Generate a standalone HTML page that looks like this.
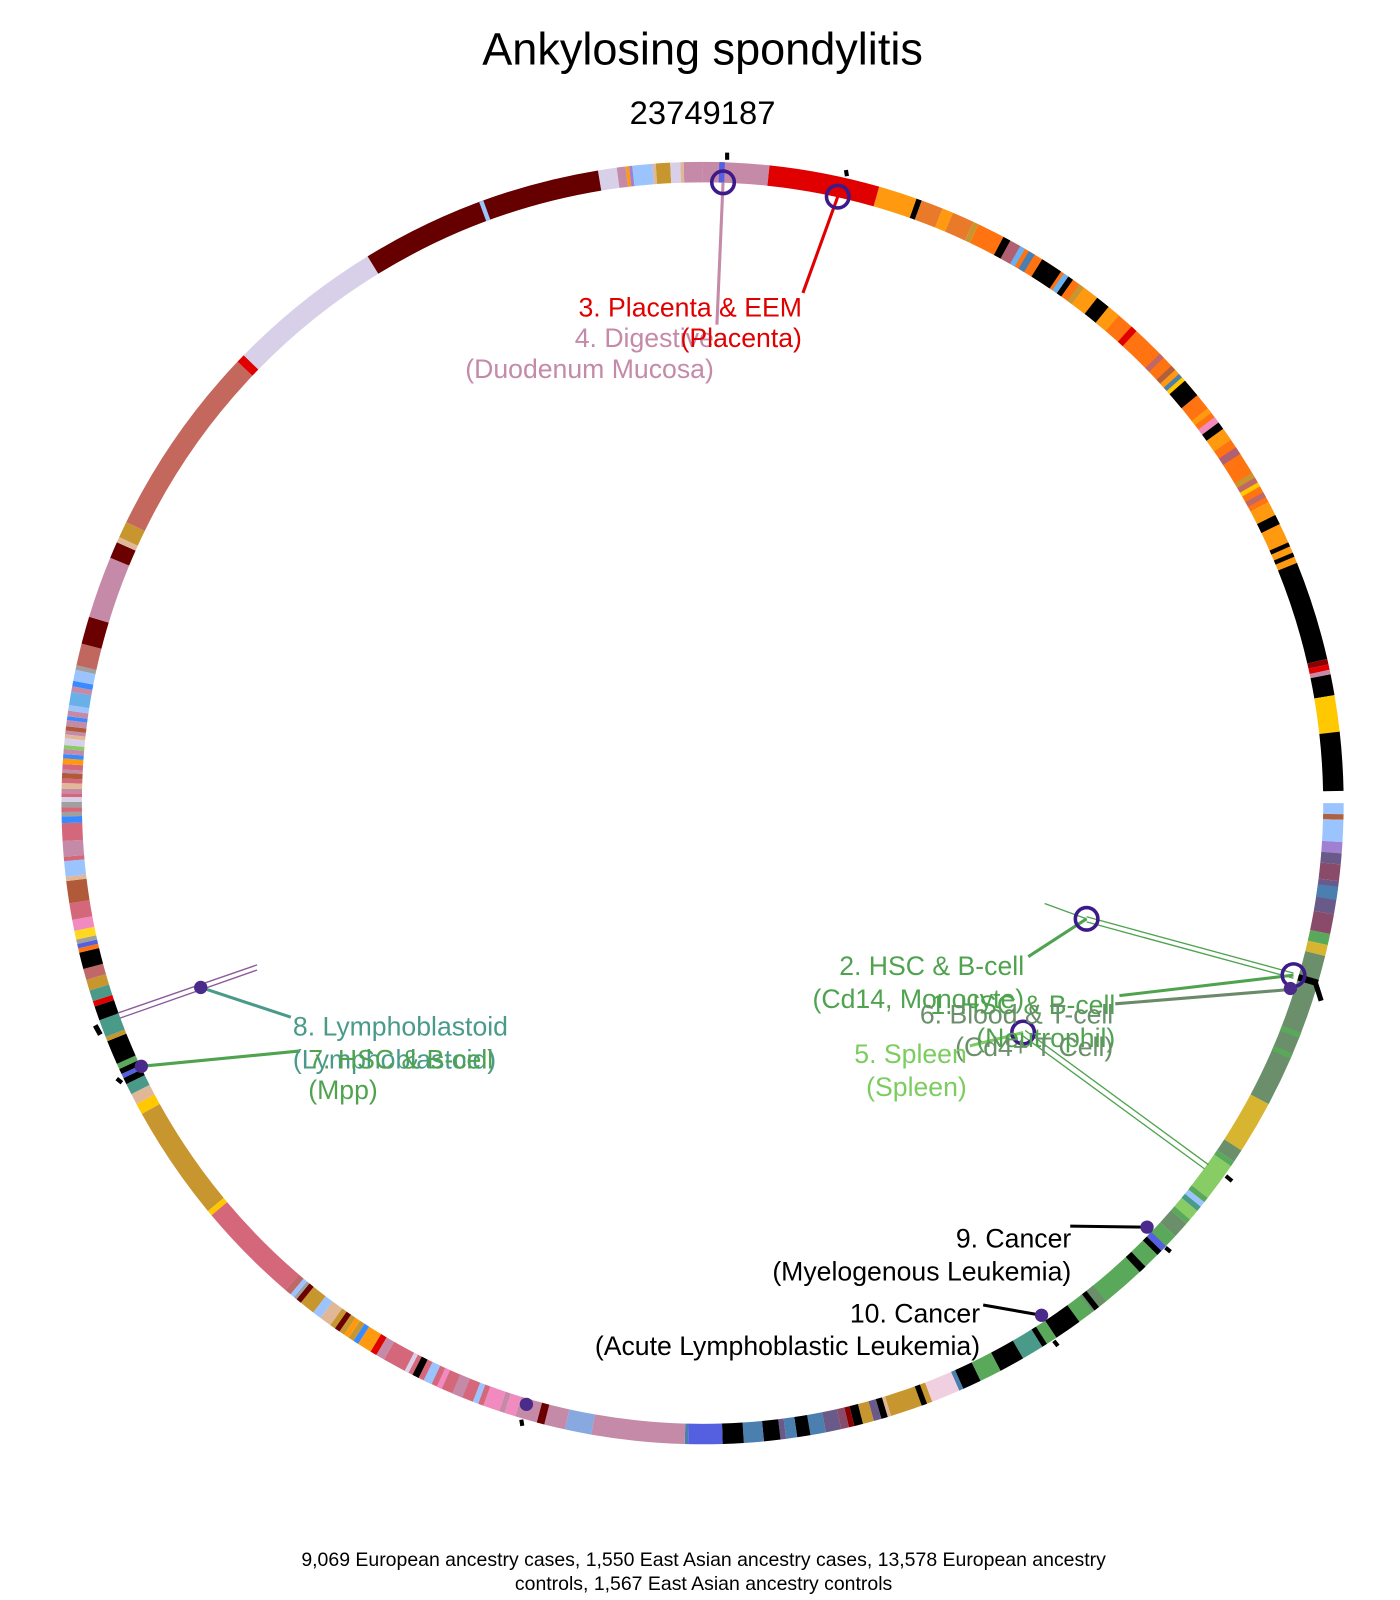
<!DOCTYPE html>
<html><head><meta charset="utf-8"><style>
html,body{margin:0;padding:0;background:#fff;}
svg{display:block;}
text{font-family:"Liberation Sans",Arial,sans-serif;}
</style></head><body>
<svg width="1400" height="1600" viewBox="0 0 1367 1562" preserveAspectRatio="none" xmlns="http://www.w3.org/2000/svg">
<rect width="1367" height="1562" fill="#fff"/>
<text x="686" y="63" font-size="44" text-anchor="middle" fill="#000">Ankylosing spondylitis</text>
<text x="686" y="121" font-size="32" text-anchor="middle" fill="#000">23749187</text>
<g transform="translate(686 784) rotate(-90)" fill="none" stroke-width="20">
<g id="ring">
<circle r="616" pathLength="360" stroke="#d8d0e8" stroke-dasharray="1.7 400" stroke-dashoffset="-350.6"/>
<circle r="616" pathLength="360" stroke="#c58aa8" stroke-dasharray="0.8 400" stroke-dashoffset="-352.3"/>
<circle r="616" pathLength="360" stroke="#ff9a10" stroke-dasharray="0.3 400" stroke-dashoffset="-353.1"/>
<circle r="616" pathLength="360" stroke="#a080d0" stroke-dasharray="0.3 400" stroke-dashoffset="-353.4"/>
<circle r="616" pathLength="360" stroke="#9bc4ff" stroke-dasharray="1.8 400" stroke-dashoffset="-353.7"/>
<circle r="616" pathLength="360" stroke="#e0b898" stroke-dasharray="0.3 400" stroke-dashoffset="-355.5"/>
<circle r="616" pathLength="360" stroke="#c8962f" stroke-dasharray="1.3 400" stroke-dashoffset="-355.8"/>
<circle r="616" pathLength="360" stroke="#d8d0e8" stroke-dasharray="0.9 400" stroke-dashoffset="-357.1"/>
<circle r="616" pathLength="360" stroke="#e0b898" stroke-dasharray="0.3 400" stroke-dashoffset="-358"/>
<circle r="616" pathLength="360" stroke="#c58aa8" stroke-dasharray="1.7 400" stroke-dashoffset="-358.3"/>
<circle r="616" pathLength="360" stroke="#c58aa8" stroke-dasharray="6 400" stroke-dashoffset="0"/>
<circle r="616" pathLength="360" stroke="#5560e0" stroke-dasharray="0.5 400" stroke-dashoffset="-1.5"/>
<circle r="616" pathLength="360" stroke="#e00000" stroke-dasharray="10 400" stroke-dashoffset="-6"/>
<circle r="616" pathLength="360" stroke="#ff9a10" stroke-dasharray="3.5 400" stroke-dashoffset="-16"/>
<circle r="616" pathLength="360" stroke="#000" stroke-dasharray="0.5 400" stroke-dashoffset="-19.5"/>
<circle r="616" pathLength="360" stroke="#e87a2a" stroke-dasharray="2 400" stroke-dashoffset="-20"/>
<circle r="616" pathLength="360" stroke="#ff9a10" stroke-dasharray="1 400" stroke-dashoffset="-22"/>
<circle r="616" pathLength="360" stroke="#e87a2a" stroke-dasharray="2 400" stroke-dashoffset="-23"/>
<circle r="616" pathLength="360" stroke="#c8962f" stroke-dasharray="0.5 400" stroke-dashoffset="-25"/>
<circle r="616" pathLength="360" stroke="#ff7310" stroke-dasharray="36.5 400" stroke-dashoffset="-25.5"/>
<circle r="616" pathLength="360" stroke="#000" stroke-dasharray="0.7 400" stroke-dashoffset="-28"/>
<circle r="616" pathLength="360" stroke="#b06070" stroke-dasharray="1 400" stroke-dashoffset="-28.7"/>
<circle r="616" pathLength="360" stroke="#6ab0f0" stroke-dasharray="0.5 400" stroke-dashoffset="-29.7"/>
<circle r="616" pathLength="360" stroke="#4a7fb0" stroke-dasharray="0.6 400" stroke-dashoffset="-30.6"/>
<circle r="616" pathLength="360" stroke="#000" stroke-dasharray="2 400" stroke-dashoffset="-32"/>
<circle r="616" pathLength="360" stroke="#6ab0f0" stroke-dasharray="0.5 400" stroke-dashoffset="-34.3"/>
<circle r="616" pathLength="360" stroke="#000" stroke-dasharray="0.5 400" stroke-dashoffset="-34.8"/>
<circle r="616" pathLength="360" stroke="#c8962f" stroke-dasharray="0.5 400" stroke-dashoffset="-36"/>
<circle r="616" pathLength="360" stroke="#ff9a10" stroke-dasharray="1.5 400" stroke-dashoffset="-36.5"/>
<circle r="616" pathLength="360" stroke="#000" stroke-dasharray="1.3 400" stroke-dashoffset="-38"/>
<circle r="616" pathLength="360" stroke="#ff9a10" stroke-dasharray="1.2 400" stroke-dashoffset="-39.3"/>
<circle r="616" pathLength="360" stroke="#e00000" stroke-dasharray="0.6 400" stroke-dashoffset="-42"/>
<circle r="616" pathLength="360" stroke="#c06868" stroke-dasharray="0.5 400" stroke-dashoffset="-45.5"/>
<circle r="616" pathLength="360" stroke="#b06040" stroke-dasharray="0.5 400" stroke-dashoffset="-47"/>
<circle r="616" pathLength="360" stroke="#ff9a10" stroke-dasharray="0.5 400" stroke-dashoffset="-47.5"/>
<circle r="616" pathLength="360" stroke="#4a7fb0" stroke-dasharray="0.4 400" stroke-dashoffset="-48"/>
<circle r="616" pathLength="360" stroke="#ffc800" stroke-dasharray="0.4 400" stroke-dashoffset="-48.4"/>
<circle r="616" pathLength="360" stroke="#000" stroke-dasharray="1.7 400" stroke-dashoffset="-48.8"/>
<circle r="616" pathLength="360" stroke="#ff9a10" stroke-dasharray="0.5 400" stroke-dashoffset="-52"/>
<circle r="616" pathLength="360" stroke="#f08abf" stroke-dasharray="0.6 400" stroke-dashoffset="-53"/>
<circle r="616" pathLength="360" stroke="#000" stroke-dasharray="0.7 400" stroke-dashoffset="-53.6"/>
<circle r="616" pathLength="360" stroke="#ff9a10" stroke-dasharray="1.2 400" stroke-dashoffset="-54.3"/>
<circle r="616" pathLength="360" stroke="#b06070" stroke-dasharray="0.7 400" stroke-dashoffset="-56.3"/>
<circle r="616" pathLength="360" stroke="#c8962f" stroke-dasharray="0.5 400" stroke-dashoffset="-59"/>
<circle r="616" pathLength="360" stroke="#c06868" stroke-dasharray="0.5 400" stroke-dashoffset="-59.5"/>
<circle r="616" pathLength="360" stroke="#ffc800" stroke-dasharray="0.4 400" stroke-dashoffset="-60"/>
<circle r="616" pathLength="360" stroke="#c06868" stroke-dasharray="0.5 400" stroke-dashoffset="-61"/>
<circle r="616" pathLength="360" stroke="#ff9a10" stroke-dasharray="6 400" stroke-dashoffset="-62"/>
<circle r="616" pathLength="360" stroke="#000" stroke-dasharray="0.9 400" stroke-dashoffset="-63.3"/>
<circle r="616" pathLength="360" stroke="#000" stroke-dasharray="0.4 400" stroke-dashoffset="-66"/>
<circle r="616" pathLength="360" stroke="#000" stroke-dasharray="0.4 400" stroke-dashoffset="-67"/>
<circle r="616" pathLength="360" stroke="#000" stroke-dasharray="9 400" stroke-dashoffset="-68"/>
<circle r="616" pathLength="360" stroke="#8b0000" stroke-dasharray="0.5 400" stroke-dashoffset="-77"/>
<circle r="616" pathLength="360" stroke="#e00000" stroke-dasharray="0.5 400" stroke-dashoffset="-77.5"/>
<circle r="616" pathLength="360" stroke="#c58aa8" stroke-dasharray="0.4 400" stroke-dashoffset="-78"/>
<circle r="616" pathLength="360" stroke="#000" stroke-dasharray="1.9 400" stroke-dashoffset="-78.4"/>
<circle r="616" pathLength="360" stroke="#ffc800" stroke-dasharray="3.3 400" stroke-dashoffset="-80.3"/>
<circle r="616" pathLength="360" stroke="#000" stroke-dasharray="5.3 400" stroke-dashoffset="-83.6"/>
<circle r="616" pathLength="360" stroke="#9bc4ff" stroke-dasharray="1 400" stroke-dashoffset="-90"/>
<circle r="616" pathLength="360" stroke="#b06040" stroke-dasharray="0.5 400" stroke-dashoffset="-91"/>
<circle r="616" pathLength="360" stroke="#9bc4ff" stroke-dasharray="2 400" stroke-dashoffset="-91.5"/>
<circle r="616" pathLength="360" stroke="#a080d0" stroke-dasharray="1 400" stroke-dashoffset="-93.5"/>
<circle r="616" pathLength="360" stroke="#6a5a8a" stroke-dasharray="1 400" stroke-dashoffset="-94.5"/>
<circle r="616" pathLength="360" stroke="#8a4a6a" stroke-dasharray="1.5 400" stroke-dashoffset="-95.5"/>
<circle r="616" pathLength="360" stroke="#6a5a8a" stroke-dasharray="3 400" stroke-dashoffset="-97"/>
<circle r="616" pathLength="360" stroke="#4a7fb0" stroke-dasharray="1.2 400" stroke-dashoffset="-97.5"/>
<circle r="616" pathLength="360" stroke="#8a4a6a" stroke-dasharray="1.8 400" stroke-dashoffset="-100"/>
<circle r="616" pathLength="360" stroke="#5aa85a" stroke-dasharray="1 400" stroke-dashoffset="-101.8"/>
<circle r="616" pathLength="360" stroke="#d8b530" stroke-dasharray="1 400" stroke-dashoffset="-102.8"/>
<circle r="616" pathLength="360" stroke="#6a8f6a" stroke-dasharray="14.2 400" stroke-dashoffset="-103.8"/>
<circle r="616" pathLength="360" stroke="#000" stroke-dasharray="0.6 400" stroke-dashoffset="-106"/>
<circle r="616" pathLength="360" stroke="#5aa85a" stroke-dasharray="0.5 400" stroke-dashoffset="-111"/>
<circle r="616" pathLength="360" stroke="#5aa85a" stroke-dasharray="0.5 400" stroke-dashoffset="-113"/>
<circle r="616" pathLength="360" stroke="#d8b530" stroke-dasharray="4.8 400" stroke-dashoffset="-118"/>
<circle r="616" pathLength="360" stroke="#6a8f6a" stroke-dasharray="1.2 400" stroke-dashoffset="-122.8"/>
<circle r="616" pathLength="360" stroke="#5aa85a" stroke-dasharray="0.5 400" stroke-dashoffset="-124"/>
<circle r="616" pathLength="360" stroke="#88cc66" stroke-dasharray="3.5 400" stroke-dashoffset="-124.5"/>
<circle r="616" pathLength="360" stroke="#5aa85a" stroke-dasharray="0.5 400" stroke-dashoffset="-128"/>
<circle r="616" pathLength="360" stroke="#9bc4ff" stroke-dasharray="0.5 400" stroke-dashoffset="-128.5"/>
<circle r="616" pathLength="360" stroke="#4a9a8a" stroke-dasharray="0.5 400" stroke-dashoffset="-129"/>
<circle r="616" pathLength="360" stroke="#88cc66" stroke-dasharray="1 400" stroke-dashoffset="-129.5"/>
<circle r="616" pathLength="360" stroke="#5aa85a" stroke-dasharray="0.5 400" stroke-dashoffset="-130.5"/>
<circle r="616" pathLength="360" stroke="#6a8f6a" stroke-dasharray="1.5 400" stroke-dashoffset="-131"/>
<circle r="616" pathLength="360" stroke="#5aa85a" stroke-dasharray="12.5 400" stroke-dashoffset="-132.5"/>
<circle r="616" pathLength="360" stroke="#5560e0" stroke-dasharray="0.6 400" stroke-dashoffset="-133.7"/>
<circle r="616" pathLength="360" stroke="#000" stroke-dasharray="0.5 400" stroke-dashoffset="-134.3"/>
<circle r="616" pathLength="360" stroke="#000" stroke-dasharray="0.7 400" stroke-dashoffset="-136.3"/>
<circle r="616" pathLength="360" stroke="#6a8f6a" stroke-dasharray="1.5 400" stroke-dashoffset="-141"/>
<circle r="616" pathLength="360" stroke="#000" stroke-dasharray="0.5 400" stroke-dashoffset="-141.8"/>
<circle r="616" pathLength="360" stroke="#000" stroke-dasharray="2.5 400" stroke-dashoffset="-144"/>
<circle r="616" pathLength="360" stroke="#5aa85a" stroke-dasharray="1 400" stroke-dashoffset="-146.5"/>
<circle r="616" pathLength="360" stroke="#000" stroke-dasharray="0.5 400" stroke-dashoffset="-147.5"/>
<circle r="616" pathLength="360" stroke="#4a9a8a" stroke-dasharray="2 400" stroke-dashoffset="-148"/>
<circle r="616" pathLength="360" stroke="#000" stroke-dasharray="2.3 400" stroke-dashoffset="-150"/>
<circle r="616" pathLength="360" stroke="#5aa85a" stroke-dasharray="2 400" stroke-dashoffset="-152.3"/>
<circle r="616" pathLength="360" stroke="#000" stroke-dasharray="1.7 400" stroke-dashoffset="-154.3"/>
<circle r="616" pathLength="360" stroke="#4a7fb0" stroke-dasharray="0.4 400" stroke-dashoffset="-156"/>
<circle r="616" pathLength="360" stroke="#f0d0e0" stroke-dasharray="2.6 400" stroke-dashoffset="-156.4"/>
<circle r="616" pathLength="360" stroke="#c8962f" stroke-dasharray="3.9 400" stroke-dashoffset="-159"/>
<circle r="616" pathLength="360" stroke="#000" stroke-dasharray="0.5 400" stroke-dashoffset="-159.5"/>
<circle r="616" pathLength="360" stroke="#e0b898" stroke-dasharray="0.3 400" stroke-dashoffset="-162.9"/>
<circle r="616" pathLength="360" stroke="#000" stroke-dasharray="0.6 400" stroke-dashoffset="-163.2"/>
<circle r="616" pathLength="360" stroke="#6a5a8a" stroke-dasharray="0.7 400" stroke-dashoffset="-163.8"/>
<circle r="616" pathLength="360" stroke="#c8962f" stroke-dasharray="1 400" stroke-dashoffset="-164.5"/>
<circle r="616" pathLength="360" stroke="#000" stroke-dasharray="0.8 400" stroke-dashoffset="-165.5"/>
<circle r="616" pathLength="360" stroke="#8b0000" stroke-dasharray="0.5 400" stroke-dashoffset="-166.3"/>
<circle r="616" pathLength="360" stroke="#8a4a6a" stroke-dasharray="0.7 400" stroke-dashoffset="-166.8"/>
<circle r="616" pathLength="360" stroke="#6a5a8a" stroke-dasharray="1.4 400" stroke-dashoffset="-167.5"/>
<circle r="616" pathLength="360" stroke="#4a7fb0" stroke-dasharray="1.4 400" stroke-dashoffset="-168.9"/>
<circle r="616" pathLength="360" stroke="#000" stroke-dasharray="1.2 400" stroke-dashoffset="-170.3"/>
<circle r="616" pathLength="360" stroke="#4a7fb0" stroke-dasharray="1 400" stroke-dashoffset="-171.5"/>
<circle r="616" pathLength="360" stroke="#6a5a8a" stroke-dasharray="0.5 400" stroke-dashoffset="-172.5"/>
<circle r="616" pathLength="360" stroke="#000" stroke-dasharray="1.5 400" stroke-dashoffset="-173"/>
<circle r="616" pathLength="360" stroke="#4a7fb0" stroke-dasharray="1.8 400" stroke-dashoffset="-174.5"/>
<circle r="616" pathLength="360" stroke="#000" stroke-dasharray="1.9 400" stroke-dashoffset="-176.3"/>
<circle r="616" pathLength="360" stroke="#5560e0" stroke-dasharray="3.1 400" stroke-dashoffset="-178.2"/>
<circle r="616" pathLength="360" stroke="#4a7fb0" stroke-dasharray="0.3 400" stroke-dashoffset="-181.3"/>
<circle r="616" pathLength="360" stroke="#c58aa8" stroke-dasharray="8.4 400" stroke-dashoffset="-181.6"/>
<circle r="616" pathLength="360" stroke="#88a8e0" stroke-dasharray="2.4 400" stroke-dashoffset="-190"/>
<circle r="616" pathLength="360" stroke="#c58aa8" stroke-dasharray="1.9 400" stroke-dashoffset="-192.4"/>
<circle r="616" pathLength="360" stroke="#6b0000" stroke-dasharray="0.7 400" stroke-dashoffset="-194.3"/>
<circle r="616" pathLength="360" stroke="#c58aa8" stroke-dasharray="2 400" stroke-dashoffset="-195"/>
<circle r="616" pathLength="360" stroke="#f08abf" stroke-dasharray="1 400" stroke-dashoffset="-197"/>
<circle r="616" pathLength="360" stroke="#c58aa8" stroke-dasharray="0.5 400" stroke-dashoffset="-198"/>
<circle r="616" pathLength="360" stroke="#f08abf" stroke-dasharray="1.5 400" stroke-dashoffset="-198.5"/>
<circle r="616" pathLength="360" stroke="#d4687a" stroke-dasharray="0.5 400" stroke-dashoffset="-200"/>
<circle r="616" pathLength="360" stroke="#9bc4ff" stroke-dasharray="0.5 400" stroke-dashoffset="-200.5"/>
<circle r="616" pathLength="360" stroke="#d4687a" stroke-dasharray="8.8 400" stroke-dashoffset="-201"/>
<circle r="616" pathLength="360" stroke="#c58aa8" stroke-dasharray="1 400" stroke-dashoffset="-202"/>
<circle r="616" pathLength="360" stroke="#f08abf" stroke-dasharray="0.5 400" stroke-dashoffset="-204"/>
<circle r="616" pathLength="360" stroke="#9bc4ff" stroke-dasharray="0.8 400" stroke-dashoffset="-205"/>
<circle r="616" pathLength="360" stroke="#000" stroke-dasharray="0.6 400" stroke-dashoffset="-206.3"/>
<circle r="616" pathLength="360" stroke="#d8d0e8" stroke-dasharray="0.4 400" stroke-dashoffset="-207.3"/>
<circle r="616" pathLength="360" stroke="#c58aa8" stroke-dasharray="0.8 400" stroke-dashoffset="-209.8"/>
<circle r="616" pathLength="360" stroke="#e00000" stroke-dasharray="0.6 400" stroke-dashoffset="-210.6"/>
<circle r="616" pathLength="360" stroke="#ff9a10" stroke-dasharray="1.3 400" stroke-dashoffset="-211.2"/>
<circle r="616" pathLength="360" stroke="#3a8aff" stroke-dasharray="0.5 400" stroke-dashoffset="-212.5"/>
<circle r="616" pathLength="360" stroke="#c8962f" stroke-dasharray="0.5 400" stroke-dashoffset="-213"/>
<circle r="616" pathLength="360" stroke="#ff9a10" stroke-dasharray="0.5 400" stroke-dashoffset="-213.5"/>
<circle r="616" pathLength="360" stroke="#c8962f" stroke-dasharray="0.5 400" stroke-dashoffset="-214"/>
<circle r="616" pathLength="360" stroke="#6b0000" stroke-dasharray="0.5 400" stroke-dashoffset="-214.5"/>
<circle r="616" pathLength="360" stroke="#c8962f" stroke-dasharray="0.5 400" stroke-dashoffset="-215"/>
<circle r="616" pathLength="360" stroke="#e0b898" stroke-dasharray="1.1 400" stroke-dashoffset="-215.5"/>
<circle r="616" pathLength="360" stroke="#9bc4ff" stroke-dasharray="0.8 400" stroke-dashoffset="-216.6"/>
<circle r="616" pathLength="360" stroke="#c8962f" stroke-dasharray="1.4 400" stroke-dashoffset="-217.4"/>
<circle r="616" pathLength="360" stroke="#6b0000" stroke-dasharray="0.5 400" stroke-dashoffset="-218.8"/>
<circle r="616" pathLength="360" stroke="#a0a0a0" stroke-dasharray="0.3 400" stroke-dashoffset="-219.3"/>
<circle r="616" pathLength="360" stroke="#9bc4ff" stroke-dasharray="0.4 400" stroke-dashoffset="-219.6"/>
<circle r="616" pathLength="360" stroke="#c06868" stroke-dasharray="0.6 400" stroke-dashoffset="-220"/>
<circle r="616" pathLength="360" stroke="#d4687a" stroke-dasharray="9.4 400" stroke-dashoffset="-220.6"/>
<circle r="616" pathLength="360" stroke="#ffc800" stroke-dasharray="0.5 400" stroke-dashoffset="-230"/>
<circle r="616" pathLength="360" stroke="#c8962f" stroke-dasharray="10.5 400" stroke-dashoffset="-230.5"/>
<circle r="616" pathLength="360" stroke="#ffc800" stroke-dasharray="1 400" stroke-dashoffset="-241"/>
<circle r="616" pathLength="360" stroke="#e0b898" stroke-dasharray="1 400" stroke-dashoffset="-242"/>
<circle r="616" pathLength="360" stroke="#4a9a8a" stroke-dasharray="1 400" stroke-dashoffset="-243"/>
<circle r="616" pathLength="360" stroke="#000" stroke-dasharray="0.6 400" stroke-dashoffset="-244"/>
<circle r="616" pathLength="360" stroke="#5560e0" stroke-dasharray="0.4 400" stroke-dashoffset="-244.6"/>
<circle r="616" pathLength="360" stroke="#000" stroke-dasharray="0.5 400" stroke-dashoffset="-245"/>
<circle r="616" pathLength="360" stroke="#5aa85a" stroke-dasharray="0.5 400" stroke-dashoffset="-245.5"/>
<circle r="616" pathLength="360" stroke="#000" stroke-dasharray="2.2 400" stroke-dashoffset="-246"/>
<circle r="616" pathLength="360" stroke="#c8962f" stroke-dasharray="0.4 400" stroke-dashoffset="-248.2"/>
<circle r="616" pathLength="360" stroke="#4a9a8a" stroke-dasharray="1.6 400" stroke-dashoffset="-248.6"/>
<circle r="616" pathLength="360" stroke="#000" stroke-dasharray="1.3 400" stroke-dashoffset="-250.2"/>
<circle r="616" pathLength="360" stroke="#e00000" stroke-dasharray="0.5 400" stroke-dashoffset="-251.5"/>
<circle r="616" pathLength="360" stroke="#4a9a8a" stroke-dasharray="1 400" stroke-dashoffset="-252"/>
<circle r="616" pathLength="360" stroke="#c8962f" stroke-dasharray="1 400" stroke-dashoffset="-253"/>
<circle r="616" pathLength="360" stroke="#c06868" stroke-dasharray="1 400" stroke-dashoffset="-254"/>
<circle r="616" pathLength="360" stroke="#000" stroke-dasharray="1.5 400" stroke-dashoffset="-255"/>
<circle r="616" pathLength="360" stroke="#ff7310" stroke-dasharray="0.4 400" stroke-dashoffset="-256.5"/>
<circle r="616" pathLength="360" stroke="#5560e0" stroke-dasharray="0.4 400" stroke-dashoffset="-256.9"/>
<circle r="616" pathLength="360" stroke="#a0a0a0" stroke-dasharray="0.4 400" stroke-dashoffset="-257.3"/>
<circle r="616" pathLength="360" stroke="#ffd820" stroke-dasharray="0.8 400" stroke-dashoffset="-257.7"/>
<circle r="616" pathLength="360" stroke="#f08abf" stroke-dasharray="1 400" stroke-dashoffset="-258.5"/>
<circle r="616" pathLength="360" stroke="#d4687a" stroke-dasharray="1.5 400" stroke-dashoffset="-259.5"/>
<circle r="616" pathLength="360" stroke="#b05a3a" stroke-dasharray="2 400" stroke-dashoffset="-261"/>
<circle r="616" pathLength="360" stroke="#e0b898" stroke-dasharray="0.4 400" stroke-dashoffset="-263"/>
<circle r="616" pathLength="360" stroke="#9bc4ff" stroke-dasharray="1.4 400" stroke-dashoffset="-263.4"/>
<circle r="616" pathLength="360" stroke="#d4687a" stroke-dasharray="0.4 400" stroke-dashoffset="-264.8"/>
<circle r="616" pathLength="360" stroke="#c58aa8" stroke-dasharray="1.4 400" stroke-dashoffset="-265.2"/>
<circle r="616" pathLength="360" stroke="#d4687a" stroke-dasharray="1.6 400" stroke-dashoffset="-266.6"/>
<circle r="616" pathLength="360" stroke="#3a8aff" stroke-dasharray="0.6 400" stroke-dashoffset="-268.2"/>
<circle r="616" pathLength="360" stroke="#a0a0a0" stroke-dasharray="0.4 400" stroke-dashoffset="-268.8"/>
<circle r="616" pathLength="360" stroke="#d4687a" stroke-dasharray="0.4 400" stroke-dashoffset="-269.2"/>
<circle r="616" pathLength="360" stroke="#a0a0a0" stroke-dasharray="0.5 400" stroke-dashoffset="-269.6"/>
<circle r="616" pathLength="360" stroke="#d8d0e8" stroke-dasharray="0.45 400" stroke-dashoffset="-270.1"/>
<circle r="616" pathLength="360" stroke="#d4687a" stroke-dasharray="0.35 400" stroke-dashoffset="-270.55"/>
<circle r="616" pathLength="360" stroke="#c58aa8" stroke-dasharray="0.4 400" stroke-dashoffset="-270.9"/>
<circle r="616" pathLength="360" stroke="#e0b898" stroke-dasharray="0.5 400" stroke-dashoffset="-271.3"/>
<circle r="616" pathLength="360" stroke="#d4687a" stroke-dasharray="0.4 400" stroke-dashoffset="-271.8"/>
<circle r="616" pathLength="360" stroke="#b05a3a" stroke-dasharray="0.5 400" stroke-dashoffset="-272.2"/>
<circle r="616" pathLength="360" stroke="#c58aa8" stroke-dasharray="0.3 400" stroke-dashoffset="-272.7"/>
<circle r="616" pathLength="360" stroke="#d4687a" stroke-dasharray="0.5 400" stroke-dashoffset="-273"/>
<circle r="616" pathLength="360" stroke="#ff9a10" stroke-dasharray="0.5 400" stroke-dashoffset="-273.5"/>
<circle r="616" pathLength="360" stroke="#3a8aff" stroke-dasharray="0.4 400" stroke-dashoffset="-274"/>
<circle r="616" pathLength="360" stroke="#c58aa8" stroke-dasharray="0.45 400" stroke-dashoffset="-274.4"/>
<circle r="616" pathLength="360" stroke="#88cc66" stroke-dasharray="0.35 400" stroke-dashoffset="-274.85"/>
<circle r="616" pathLength="360" stroke="#d8d0e8" stroke-dasharray="0.6 400" stroke-dashoffset="-275.2"/>
<circle r="616" pathLength="360" stroke="#e0b898" stroke-dasharray="0.35 400" stroke-dashoffset="-275.8"/>
<circle r="616" pathLength="360" stroke="#c58aa8" stroke-dasharray="0.35 400" stroke-dashoffset="-276.15"/>
<circle r="616" pathLength="360" stroke="#b05a3a" stroke-dasharray="0.4 400" stroke-dashoffset="-276.5"/>
<circle r="616" pathLength="360" stroke="#c58aa8" stroke-dasharray="0.55 400" stroke-dashoffset="-276.9"/>
<circle r="616" pathLength="360" stroke="#3a8aff" stroke-dasharray="0.35 400" stroke-dashoffset="-277.45"/>
<circle r="616" pathLength="360" stroke="#c58aa8" stroke-dasharray="0.5 400" stroke-dashoffset="-277.8"/>
<circle r="616" pathLength="360" stroke="#9bc4ff" stroke-dasharray="0.5 400" stroke-dashoffset="-278.3"/>
<circle r="616" pathLength="360" stroke="#6ab0e8" stroke-dasharray="1.2 400" stroke-dashoffset="-278.8"/>
<circle r="616" pathLength="360" stroke="#c58aa8" stroke-dasharray="0.5 400" stroke-dashoffset="-280"/>
<circle r="616" pathLength="360" stroke="#3a8aff" stroke-dasharray="0.5 400" stroke-dashoffset="-280.5"/>
<circle r="616" pathLength="360" stroke="#9bc4ff" stroke-dasharray="1 400" stroke-dashoffset="-281"/>
<circle r="616" pathLength="360" stroke="#a0a0a0" stroke-dasharray="0.4 400" stroke-dashoffset="-282"/>
<circle r="616" pathLength="360" stroke="#c06860" stroke-dasharray="2 400" stroke-dashoffset="-282.4"/>
<circle r="616" pathLength="360" stroke="#6b0000" stroke-dasharray="2.5 400" stroke-dashoffset="-284.4"/>
<circle r="616" pathLength="360" stroke="#c58aa8" stroke-dasharray="5.6 400" stroke-dashoffset="-286.9"/>
<circle r="616" pathLength="360" stroke="#6b0000" stroke-dasharray="1.5 400" stroke-dashoffset="-292.5"/>
<circle r="616" pathLength="360" stroke="#e0b898" stroke-dasharray="0.5 400" stroke-dashoffset="-294"/>
<circle r="616" pathLength="360" stroke="#c8962f" stroke-dasharray="1.5 400" stroke-dashoffset="-294.5"/>
<circle r="616" pathLength="360" stroke="#c4675c" stroke-dasharray="17.5 400" stroke-dashoffset="-296"/>
<circle r="616" pathLength="360" stroke="#e00000" stroke-dasharray="0.8 400" stroke-dashoffset="-313.5"/>
<circle r="616" pathLength="360" stroke="#d8d0e8" stroke-dasharray="14.2 400" stroke-dashoffset="-314.3"/>
<circle r="616" pathLength="360" stroke="#660000" stroke-dasharray="22.1 400" stroke-dashoffset="-328.5"/>
<circle r="616" pathLength="360" stroke="#9bc4ff" stroke-dasharray="0.4 400" stroke-dashoffset="-339.6"/>
</g>
</g>
<g stroke="#000" stroke-width="4">
<line x1="710" y1="149" x2="710" y2="156"/>
<line x1="826" y1="166" x2="827" y2="172"/>
<line x1="1284" y1="958" x2="1290" y2="977" stroke-width="5"/>
<line x1="1197" y1="1148" x2="1203" y2="1153"/>
<line x1="1138" y1="1218" x2="1143" y2="1222"/>
<line x1="1029" y1="1309" x2="1033" y2="1314"/>
<line x1="509" y1="1386" x2="510" y2="1392"/>
<line x1="93" y1="1001" x2="98" y2="1010" stroke-width="5"/>
<line x1="114" y1="1053" x2="119" y2="1057"/>
</g>
<g fill="none" stroke-linecap="butt">
<line x1="706" y1="178" x2="700" y2="317" stroke="#c58aa8" stroke-width="3"/>
<line x1="818" y1="192" x2="784" y2="286" stroke="#e00000" stroke-width="3"/>
<line x1="1020" y1="882" x2="1061" y2="897" stroke="#4fa34f" stroke-width="1.3"/>
<line x1="1061" y1="895" x2="1263" y2="950" stroke="#4fa34f" stroke-width="1.3"/>
<line x1="1061" y1="900" x2="1263" y2="955" stroke="#4fa34f" stroke-width="1.3"/>
<line x1="1004" y1="934" x2="1061" y2="897" stroke="#4fa34f" stroke-width="3"/>
<line x1="1093" y1="972" x2="1263" y2="952" stroke="#4fa34f" stroke-width="3"/>
<line x1="1089" y1="980" x2="1260" y2="966" stroke="#6a8a6a" stroke-width="3"/>
<line x1="947" y1="1021" x2="999" y2="1008" stroke="#7ccc60" stroke-width="3"/>
<line x1="997" y1="1010" x2="1176" y2="1141" stroke="#4fa34f" stroke-width="1.3"/>
<line x1="1001" y1="1006" x2="1180" y2="1137" stroke="#4fa34f" stroke-width="1.3"/>
<line x1="115" y1="989" x2="251" y2="942" stroke="#8a5a9a" stroke-width="1.3"/>
<line x1="117" y1="994" x2="251" y2="947" stroke="#8a5a9a" stroke-width="1.3"/>
<line x1="196" y1="964" x2="284" y2="993" stroke="#4a9a8a" stroke-width="3"/>
<line x1="138" y1="1041" x2="293" y2="1026" stroke="#4fa34f" stroke-width="3"/>
<line x1="1120" y1="1198" x2="1045" y2="1197" stroke="#000" stroke-width="3"/>
<line x1="1017" y1="1284" x2="960" y2="1274" stroke="#000" stroke-width="3"/>
</g>
<g fill="none" stroke="#3d1a8a" stroke-width="3.5">
<circle cx="706" cy="178" r="11"/>
<circle cx="818" cy="192" r="11"/>
<circle cx="1061" cy="897" r="11"/>
<circle cx="1263" cy="952" r="11"/>
<circle cx="999" cy="1008" r="11"/>
</g>
<g fill="#4a2a8a">
<circle cx="1260" cy="965" r="6.5"/>
<circle cx="196" cy="964" r="6.5"/>
<circle cx="138" cy="1041" r="6.5"/>
<circle cx="1120" cy="1198" r="6.5"/>
<circle cx="1017" cy="1284" r="6.5"/>
<circle cx="514" cy="1371" r="6.5"/>
</g>
<g font-size="26">
<text x="783" y="309" text-anchor="end" fill="#e00000">3. Placenta &amp; EEM</text>
<text x="697" y="339" text-anchor="end" fill="#c58aa8">4. Digestive</text>
<text x="783" y="339" text-anchor="end" fill="#e00000">(Placenta)</text>
<text x="697" y="369" text-anchor="end" fill="#c58aa8">(Duodenum Mucosa)</text>
<text x="1000" y="952" text-anchor="end" fill="#4fa34f">2. HSC &amp; B-cell</text>
<text x="1000" y="984" text-anchor="end" fill="#4fa34f">(Cd14, Monocyte)</text>
<text x="1089" y="990" text-anchor="end" fill="#4fa34f">1. HSC &amp; B-cell</text>
<text x="1087" y="999" text-anchor="end" fill="#6a8f6a">6. Blood &amp; T-cell</text>
<text x="1089" y="1022" text-anchor="end" fill="#4fa34f">(Neutrophil)</text>
<text x="1087" y="1031" text-anchor="end" fill="#6a8f6a">(Cd4+ T Cell)</text>
<text x="944" y="1038" text-anchor="end" fill="#7ccc60">5. Spleen</text>
<text x="944" y="1070" text-anchor="end" fill="#7ccc60">(Spleen)</text>
<text x="286" y="1011" fill="#4a9a8a">8. Lymphoblastoid</text>
<text x="286" y="1043" fill="#4a9a8a">(Lymphoblastoid)</text>
<text x="301" y="1043" fill="#4fa34f">7. HSC &amp; B-cell</text>
<text x="301" y="1073" fill="#4fa34f">(Mpp)</text>
<text x="1046" y="1218" text-anchor="end" fill="#000">9. Cancer</text>
<text x="1046" y="1250" text-anchor="end" fill="#000">(Myelogenous Leukemia)</text>
<text x="957" y="1291" text-anchor="end" fill="#000">10. Cancer</text>
<text x="957" y="1323" text-anchor="end" fill="#000">(Acute Lymphoblastic Leukemia)</text>
</g>
<g font-size="19" fill="#000" text-anchor="middle">
<text x="687" y="1529">9,069 European ancestry cases, 1,550 East Asian ancestry cases, 13,578 European ancestry</text>
<text x="687" y="1552">controls, 1,567 East Asian ancestry controls</text>
</g>
</svg>
</body></html>
